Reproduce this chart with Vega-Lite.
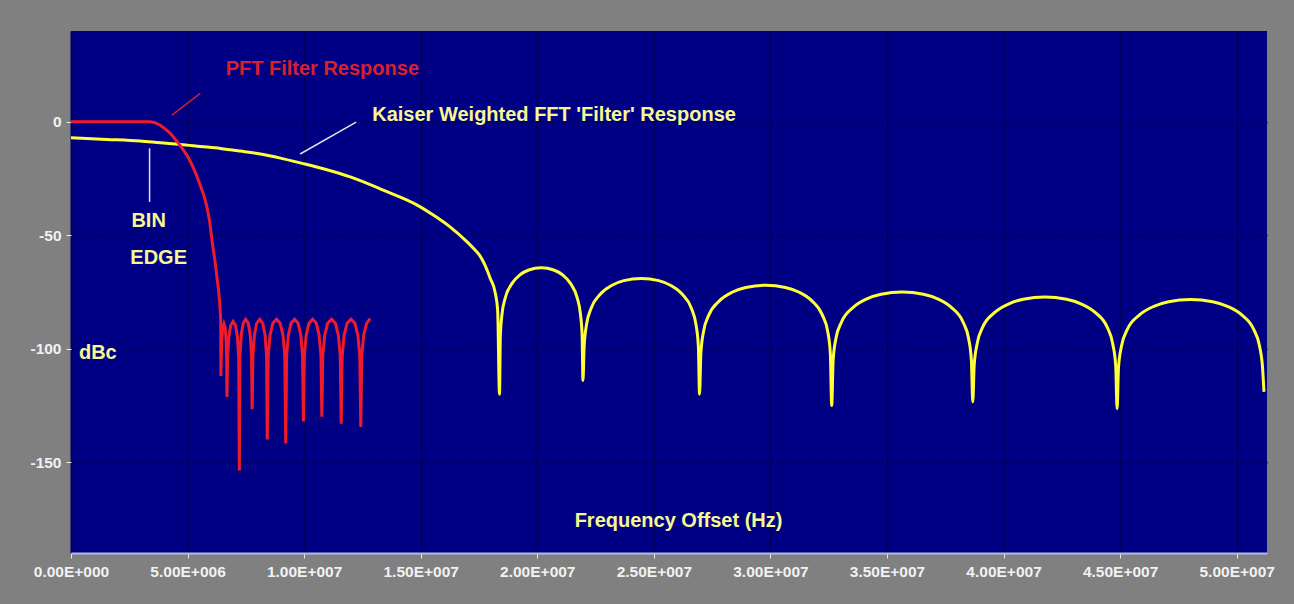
{
  "$schema": "https://vega.github.io/schema/vega-lite/v6.json",
  "width": 1196,
  "height": 522,
  "autosize": {"type": "none"},
  "padding": {"left": 71, "top": 31, "right": 27, "bottom": 51},
  "background": "#808080",
  "config": {
    "view": {"fill": "#000085", "stroke": null},
    "font": "Liberation Sans"
  },
  "datasets": {
    "kaiser": [
      {"f": 0, "db": -7.05}, {"f": 1.54e6, "db": -7.76}, {"f": 2.97e6, "db": -8.5}, {"f": 3.83e6, "db": -9.26},
      {"f": 4.69e6, "db": -9.96}, {"f": 5.55e6, "db": -10.85}, {"f": 6.41e6, "db": -11.73}, {"f": 7.26e6, "db": -12.9},
      {"f": 8.12e6, "db": -14.2}, {"f": 8.98e6, "db": -16.0}, {"f": 9.83e6, "db": -18.1}, {"f": 10.9e6, "db": -20.9},
      {"f": 11.98e6, "db": -24.3}, {"f": 13.39e6, "db": -30.1}, {"f": 14.85e6, "db": -36.7}, {"f": 15.54e6, "db": -41.1},
      {"f": 16.27e6, "db": -46.4}, {"f": 17.0e6, "db": -53.0}, {"f": 17.34e6, "db": -56.6}, {"f": 17.55e6, "db": -59.2},
      {"f": 17.85e6, "db": -65.4}, {"f": 17.98e6, "db": -68.9}, {"f": 18.2e6, "db": -75.5}, {"f": 18.3e6, "db": -83},
      {"f": 18.38e6, "db": -120},
      {"f": 18.416e6, "db": -94.4}, {"f": 18.487e6, "db": -84.8}, {"f": 18.631e6, "db": -77.5}, {"f": 18.917e6, "db": -71.2},
      {"f": 19.275e6, "db": -67.3}, {"f": 19.633e6, "db": -65.3}, {"f": 20.17e6, "db": -64.3}, {"f": 20.707e6, "db": -65.3},
      {"f": 21.065e6, "db": -67.3}, {"f": 21.423e6, "db": -71.2}, {"f": 21.709e6, "db": -77.5}, {"f": 21.853e6, "db": -84.8},
      {"f": 21.924e6, "db": -94.4}, {"f": 21.96e6, "db": -114},
      {"f": 22.01e6, "db": -99.1}, {"f": 22.11e6, "db": -89.5}, {"f": 22.31e6, "db": -82.2}, {"f": 22.71e6, "db": -75.9},
      {"f": 23.21e6, "db": -72.0}, {"f": 23.71e6, "db": -70.0}, {"f": 24.46e6, "db": -69.0}, {"f": 25.21e6, "db": -70.0},
      {"f": 25.71e6, "db": -72.0}, {"f": 26.21e6, "db": -75.9}, {"f": 26.61e6, "db": -82.2}, {"f": 26.81e6, "db": -89.5},
      {"f": 26.91e6, "db": -99.1}, {"f": 26.96e6, "db": -120},
      {"f": 27.017e6, "db": -102.1}, {"f": 27.13e6, "db": -92.5}, {"f": 27.357e6, "db": -85.2}, {"f": 27.81e6, "db": -78.9},
      {"f": 28.378e6, "db": -75.0}, {"f": 28.945e6, "db": -73.0}, {"f": 29.795e6, "db": -72.0}, {"f": 30.646e6, "db": -73.0},
      {"f": 31.21e6, "db": -75.0}, {"f": 31.78e6, "db": -78.9}, {"f": 32.23e6, "db": -85.2}, {"f": 32.46e6, "db": -92.5},
      {"f": 32.57e6, "db": -102.1}, {"f": 32.63e6, "db": -125},
      {"f": 32.69e6, "db": -105.1}, {"f": 32.81e6, "db": -95.5}, {"f": 33.05e6, "db": -88.2}, {"f": 33.54e6, "db": -81.9},
      {"f": 34.14e6, "db": -78.0}, {"f": 34.75e6, "db": -76.0}, {"f": 35.655e6, "db": -75.0}, {"f": 36.56e6, "db": -76.0},
      {"f": 37.17e6, "db": -78.0}, {"f": 37.77e6, "db": -81.9}, {"f": 38.26e6, "db": -88.2}, {"f": 38.5e6, "db": -95.5},
      {"f": 38.62e6, "db": -105.1}, {"f": 38.68e6, "db": -123.4},
      {"f": 38.74e6, "db": -107.3}, {"f": 38.87e6, "db": -97.7}, {"f": 39.11e6, "db": -90.4}, {"f": 39.61e6, "db": -84.1},
      {"f": 40.23e6, "db": -80.2}, {"f": 40.85e6, "db": -78.2}, {"f": 41.775e6, "db": -77.2}, {"f": 42.7e6, "db": -78.2},
      {"f": 43.32e6, "db": -80.2}, {"f": 43.94e6, "db": -84.1}, {"f": 44.44e6, "db": -90.4}, {"f": 44.68e6, "db": -97.7},
      {"f": 44.81e6, "db": -107.3}, {"f": 44.87e6, "db": -126.4},
      {"f": 44.93e6, "db": -108.4}, {"f": 45.06e6, "db": -98.8}, {"f": 45.31e6, "db": -91.5}, {"f": 45.82e6, "db": -85.2},
      {"f": 46.45e6, "db": -81.3}, {"f": 47.08e6, "db": -79.3}, {"f": 48.02e6, "db": -78.3}, {"f": 48.97e6, "db": -79.3},
      {"f": 49.6e6, "db": -81.3}, {"f": 50.23e6, "db": -85.2}, {"f": 50.73e6, "db": -91.5}, {"f": 50.98e6, "db": -98.8},
      {"f": 51.11e6, "db": -108.4}, {"f": 51.17e6, "db": -119}
    ],
    "pft": [
      {"f": 0, "db": 0}, {"f": 3.4e6, "db": 0}, {"f": 3.6e6, "db": -0.4}, {"f": 3.83e6, "db": -1.5}, {"f": 4.05e6, "db": -3.2},
      {"f": 4.26e6, "db": -5.1}, {"f": 4.45e6, "db": -7.4}, {"f": 4.61e6, "db": -9.5}, {"f": 4.8e6, "db": -12.2},
      {"f": 4.97e6, "db": -14.7}, {"f": 5.12e6, "db": -17.5}, {"f": 5.26e6, "db": -20.5}, {"f": 5.4e6, "db": -24},
      {"f": 5.54e6, "db": -27.9}, {"f": 5.7e6, "db": -32.5}, {"f": 5.83e6, "db": -37.5}, {"f": 5.95e6, "db": -44},
      {"f": 6.02e6, "db": -50}, {"f": 6.1e6, "db": -56}, {"f": 6.19e6, "db": -62.4}, {"f": 6.26e6, "db": -68.5},
      {"f": 6.33e6, "db": -74.2}, {"f": 6.38e6, "db": -80}, {"f": 6.42e6, "db": -87}, {"f": 6.43e6, "db": -112},
      {"f": 6.443e6, "db": -105.1}, {"f": 6.469e6, "db": -95.9}, {"f": 6.508e6, "db": -90.8}, {"f": 6.56e6, "db": -89},
      {"f": 6.612e6, "db": -90.8}, {"f": 6.651e6, "db": -95.9}, {"f": 6.677e6, "db": -105.1}, {"f": 6.69e6, "db": -121.2},
      {"f": 6.716e6, "db": -104.1}, {"f": 6.77e6, "db": -94.9}, {"f": 6.849e6, "db": -89.8}, {"f": 6.955e6, "db": -88},
      {"f": 7.061e6, "db": -89.8}, {"f": 7.14e6, "db": -94.9}, {"f": 7.194e6, "db": -104.1}, {"f": 7.22e6, "db": -153.6},
      {"f": 7.248e6, "db": -103.1}, {"f": 7.303e6, "db": -93.9}, {"f": 7.385e6, "db": -88.8}, {"f": 7.495e6, "db": -87},
      {"f": 7.605e6, "db": -88.8}, {"f": 7.688e6, "db": -93.9}, {"f": 7.743e6, "db": -103.1}, {"f": 7.77e6, "db": -126.7},
      {"f": 7.803e6, "db": -103.1}, {"f": 7.868e6, "db": -93.9}, {"f": 7.965e6, "db": -88.8}, {"f": 8.095e6, "db": -87},
      {"f": 8.225e6, "db": -88.8}, {"f": 8.323e6, "db": -93.9}, {"f": 8.388e6, "db": -103.1}, {"f": 8.42e6, "db": -140},
      {"f": 8.46e6, "db": -103.1}, {"f": 8.539e6, "db": -93.9}, {"f": 8.657e6, "db": -88.8}, {"f": 8.815e6, "db": -87},
      {"f": 8.973e6, "db": -88.8}, {"f": 9.092e6, "db": -93.9}, {"f": 9.171e6, "db": -103.1}, {"f": 9.21e6, "db": -141.8},
      {"f": 9.248e6, "db": -103.1}, {"f": 9.324e6, "db": -93.9}, {"f": 9.438e6, "db": -88.8}, {"f": 9.59e6, "db": -87},
      {"f": 9.742e6, "db": -88.8}, {"f": 9.856e6, "db": -93.9}, {"f": 9.932e6, "db": -103.1}, {"f": 9.97e6, "db": -132},
      {"f": 10.01e6, "db": -103.1}, {"f": 10.089e6, "db": -93.9}, {"f": 10.207e6, "db": -88.8}, {"f": 10.365e6, "db": -87},
      {"f": 10.523e6, "db": -88.8}, {"f": 10.642e6, "db": -93.9}, {"f": 10.721e6, "db": -103.1}, {"f": 10.76e6, "db": -130},
      {"f": 10.8e6, "db": -103.1}, {"f": 10.885e6, "db": -93.9}, {"f": 11.009e6, "db": -88.8}, {"f": 11.175e6, "db": -87},
      {"f": 11.341e6, "db": -88.8}, {"f": 11.466e6, "db": -93.9}, {"f": 11.549e6, "db": -103.1}, {"f": 11.59e6, "db": -133},
      {"f": 11.632e6, "db": -103.1}, {"f": 11.716e6, "db": -93.9}, {"f": 11.842e6, "db": -88.8}, {"f": 12.01e6, "db": -87},
      {"f": 12.178e6, "db": -88.8}, {"f": 12.304e6, "db": -93.9}, {"f": 12.388e6, "db": -103.1}, {"f": 12.43e6, "db": -134.5},
      {"f": 12.472e6, "db": -103.1}, {"f": 12.556e6, "db": -93.9}, {"f": 12.682e6, "db": -88.8}, {"f": 12.83e6, "db": -86.7}
    ],
    "redPointer": [{"f": 4.33e6, "db": 2.95, "f2": 5.545e6, "db2": 12.5}],
    "whitePointers": [
      {"f": 9.83e6, "db": -14.2, "f2": 12.23e6, "db2": -0.13},
      {"f": 3.37e6, "db": -11.7, "f2": 3.37e6, "db2": -35.3}
    ],
    "yellowLabels": [
      {"f": 20.72e6, "db": 2.95, "text": "Kaiser Weighted FFT 'Filter' Response"},
      {"f": 3.33e6, "db": -43.65, "text": "BIN"},
      {"f": 3.76e6, "db": -60.2, "text": "EDGE"},
      {"f": 1.15e6, "db": -101.7, "text": "dBc"},
      {"f": 26.06e6, "db": -175.9, "text": "Frequency Offset (Hz)"}
    ],
    "redLabels": [
      {"f": 10.78e6, "db": 23.2, "text": "PFT Filter Response"}
    ]
  },
  "encoding": {
    "x": {
      "field": "f", "type": "quantitative",
      "scale": {"domain": [0, 51300000], "nice": false, "zero": false},
      "axis": {
        "title": null,
        "values": [0, 5000000, 10000000, 15000000, 20000000, 25000000, 30000000, 35000000, 40000000, 45000000, 50000000],
        "labelExpr": "datum.value == 0 ? '0.00E+000' : format(datum.value / pow(10, floor(log(datum.value) / LN10 + 1e-9)), '.2f') + 'E+00' + floor(log(datum.value) / LN10 + 1e-9)",
        "grid": true, "gridColor": "#00005e", "gridWidth": 2,
        "domainColor": "#b8b8e8", "domainWidth": 2,
        "tickColor": "#e8e8e8", "tickSize": 5,
        "labelColor": "#f2f2f2", "labelFont": "Liberation Sans", "labelFontWeight": "bold", "labelFontSize": 15.5,
        "labelPadding": 6, "labelOverlap": false, "labelFlush": false
      }
    },
    "y": {
      "field": "db", "type": "quantitative",
      "scale": {"domain": [-190, 40], "nice": false, "zero": false},
      "axis": {
        "title": null,
        "values": [0, -50, -100, -150],
        "labelExpr": "'' + datum.value",
        "grid": true, "gridColor": "#000050", "gridWidth": 2, "gridDash": [2, 3],
        "domain": false,
        "tickColor": "#e8e8e8", "tickSize": 5,
        "labelColor": "#f2f2f2", "labelFont": "Liberation Sans", "labelFontWeight": "bold", "labelFontSize": 15.5,
        "labelPadding": 5
      }
    }
  },
  "layer": [
    {
      "data": {"name": "kaiser"},
      "mark": {"type": "line", "color": "#ffff38", "strokeWidth": 3, "clip": true, "interpolate": "monotone"}
    },
    {
      "data": {"name": "pft"},
      "mark": {"type": "line", "color": "#ee1c2a", "strokeWidth": 3, "clip": true}
    },
    {
      "data": {"name": "redPointer"},
      "mark": {"type": "rule", "color": "#d02030", "strokeWidth": 1.5},
      "encoding": {"x2": {"field": "f2"}, "y2": {"field": "db2"}}
    },
    {
      "data": {"name": "whitePointers"},
      "mark": {"type": "rule", "color": "#e0e0f0", "strokeWidth": 1.5},
      "encoding": {"x2": {"field": "f2"}, "y2": {"field": "db2"}}
    },
    {
      "data": {"name": "yellowLabels"},
      "mark": {"type": "text", "color": "#f8f890", "font": "Liberation Sans", "fontWeight": "bold", "fontSize": 20, "align": "center", "baseline": "middle"},
      "encoding": {"text": {"field": "text"}}
    },
    {
      "data": {"name": "redLabels"},
      "mark": {"type": "text", "color": "#d8202c", "font": "Liberation Sans", "fontWeight": "bold", "fontSize": 20, "align": "center", "baseline": "middle"},
      "encoding": {"text": {"field": "text"}}
    }
  ]
}
